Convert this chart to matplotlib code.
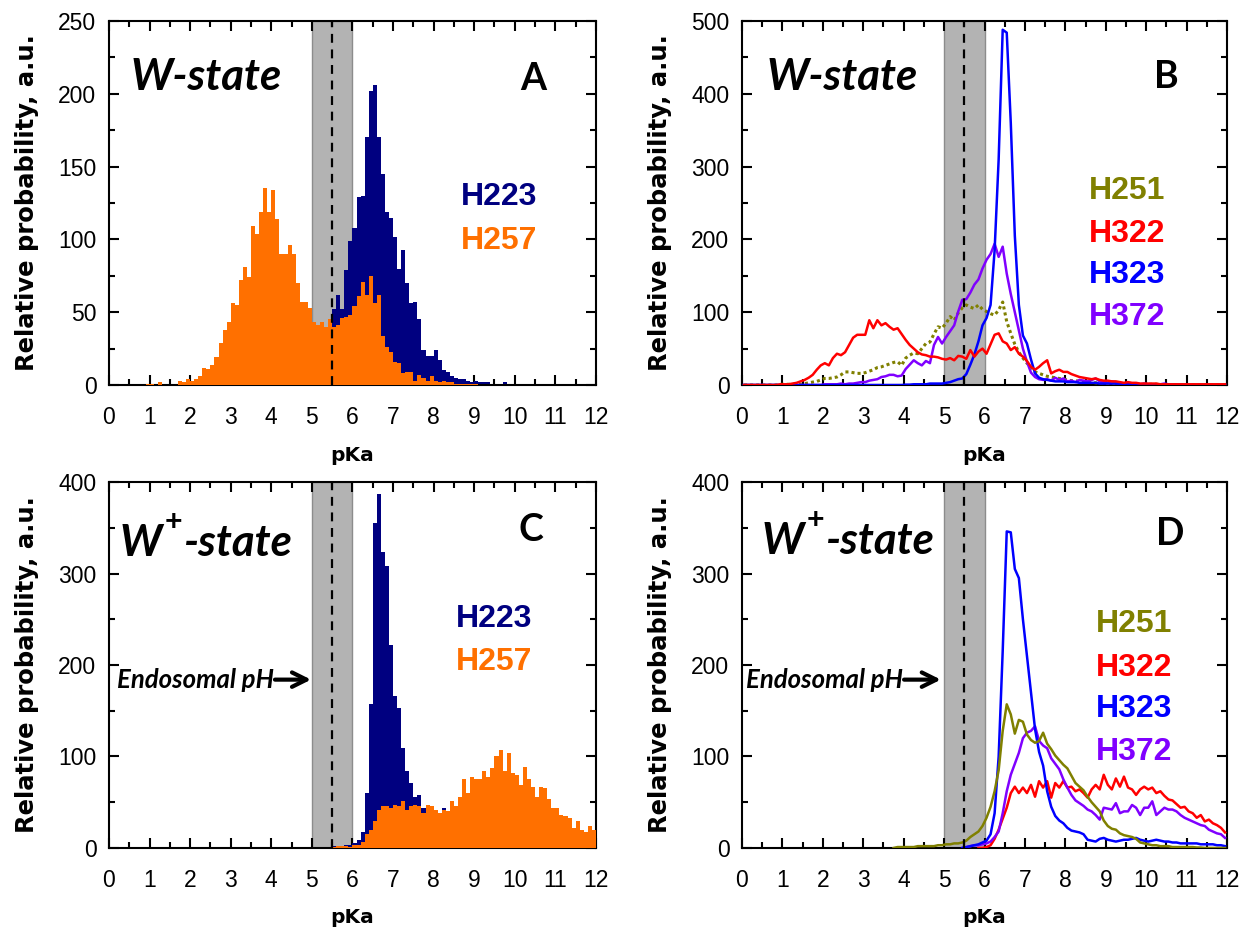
import numpy as np
import matplotlib.pyplot as plt
from matplotlib.ticker import MultipleLocator

# histogram bins of 0.1 pKa; line data are given at the bin centres
edges = np.round(np.arange(0, 12.001, 0.1), 2)
centers = edges[:-1] + 0.05
NA = float('nan')   # no sample there

# Panel A: W-state histograms
a_h223 = ([0] * 20 +
          [0, 0, 1, 1, 1, 2, 2, 3, 3, 4] +
          [5, 5, 6, 7, 8, 10, 11, 12, 14, 16] +
          [18, 20, 21, 23, 25, 28, 30, 32, 34, 36] +
          [36, 37, 38, 38, 42, 52, 62, 52, 79, 99] +
          [108, 129, 130, 170, 202, 206, 170, 145, 119, 115] +
          [102, 80, 93, 70, 56, 57, 45, 24, 20, 20] +
          [24, 17, 10, 9, 6, 5, 4, 4, 3, 2] +
          [3, 2, 2, 2, 1, 1, 0.5, 2, 0, 0] +
          [0] * 20)
a_h257 = ([0, 0, 0, 0, 0, 0, 0, 0, 0, 1] +
          [1, 0, 2, 0, 0, 0, 0, 3, 2, 4] +
          [3, 4, 6, 12, 11, 14, 19, 29, 38, 43] +
          [56, 55, 72, 81, 74, 109, 104, 119, 135, 119] +
          [134, 114, 90, 90, 96, 90, 70, 57, 57, 53] +
          [43, 41, 43, 40, 45, 40, 41, 46, 47, 48] +
          [54, 61, 71, 62, 75, 56, 62, 34, 26, 23] +
          [16, 15, 8, 9, 9, 3, 7, 5, 3, 6] +
          [3, 2, 3, 2, 2, 1, 1, 1, 1, 0.5] +
          [0.5, 0, 0, 0, 0, 0, 0, 0, 0, 0] +
          [0] * 20)

# Panel C: W+-state histograms
c_h223 = ([0] * 53 +
          [1, 1, 2, 2, 2, 3, 3] +
          [5, 9, 18, 60, 157, 355, 387, 324, 308, 222] +
          [166, 153, 109, 84, 71, 56, 58, 44, 40, 38] +
          [35, 33, 44, 30, 25, 20, 18, 15, 13, 11] +
          [9, 8, 7, 6, 5, 4, 3, 3, 2, 2] +
          [1, 1, 1, 1, 0.5, 0, 0, 0, 0, 0] +
          [0] * 10)
c_h257 = ([0] * 55 +
          [1, 2, 2, 2, 1] +
          [3, 3, 7, 15, 20, 29, 42, 46, 46, 44] +
          [47, 46, 51, 42, 46, 47, 46, 38, 47, 46] +
          [42, 38, 42, 40, 51, 46, 56, 75, 60, 78] +
          [75, 75, 84, 78, 87, 100, 107, 84, 104, 82] +
          [80, 69, 89, 75, 67, 56, 67, 66, 53, 44] +
          [44, 36, 35, 33, 22, 29, 20, 18, 24, 20])

# Panel B: W-state distributions
b_h251 = ([0, 0, 0, 0, 0, 0, 0, 0, 0, 1] +
          [1, 1, 1, 1, 1, 2, 3, 4, 5, 7] +
          [9, 9, 10, 11, 14, 18, 18, 17, 16, 16] +
          [17, 19, 21, 24, 25, 27, 29, 31, 32, 27] +
          [37, 41, 44, 43, 50, 57, 59, 70, 80, 78] +
          [85, 94, 89, 99, 106, 110, 107, 105, 110, 104] +
          [101, 98, 96, 103, 114, 87, 71, 56, 45, 37] +
          [30, 25, 18, 16, 14, 12, 11, 10, 9, 8] +
          [7, 6, 6, 5, 5, 4, 4, 3, 3, 3] +
          [2, 2, 2, 2, 1, 1, 1, 1, 1, 1] +
          [1, 1, 1, 0.5, 0.5, 0.5, 0.5, 0, 0, 0] +
          [0] * 10)
b_h322 = ([0, 0, 0, 0, 0, 0, 0, 0, 0, 1] +
          [1, 1, 2, 3, 5, 7, 10, 14, 21, 27] +
          [30, 27, 37, 43, 41, 45, 55, 65, 69, 69] +
          [69, 89, 78, 89, 82, 85, 80, 76, 78, 70] +
          [62, 55, 50, 45, 42, 41, 39, 39, 38, 36] +
          [35, 37, 34, 40, 39, 36, 48, 39, 46, 50] +
          [43, 56, 69, 71, 60, 57, 48, 52, 43, 39] +
          [33, 25, 21, 25, 30, 34, 16, 19, 21, 18] +
          [18, 15, 13, 11, 10, 9, 8, 9, 7, 6] +
          [6, 5, 5, 4, 3, 4, 3, 3, 2, 2] +
          [2, 2, 2, 1, 1, 1, 1, 1, 1, 1] +
          [1, 1, 1, 1, 1, 1, 1, 1, 1, 1])
b_h323 = ([0] * 40 +
          [0.5, 0.5, 1, 1, 1, 1, 2, 2, 2, 2] +
          [3, 4, 6, 8, 9, 15, 28, 42, 60, 82] +
          [92, 110, 185, 310, 488, 484, 360, 205, 110, 68] +
          [57, 35, 16, 10, 8, 7, 6, 5, 5, 5] +
          [4, 4, 4, 3, 3, 3, 3, 3, 2, 2] +
          [2, 2, 2, 1, 1, 1, 1, 1, 1, 1] +
          [1, 1, 1, 1, 1, 0.5, 0.5, 0.5, 0.5, 0.5] +
          [0] * 10)
b_h372 = ([0] * 20 +
          [1, 1, 1, 1, 2, 1, 2, 2, 3, 4] +
          [4, 6, 7, 8, 11, 12, 14, 14, 12, 13] +
          [22, 28, 34, 30, 27, 33, 30, 55, 66, 57] +
          [66, 74, 82, 101, 117, 118, 127, 138, 145, 160] +
          [172, 180, 194, 176, 190, 153, 125, 100, 75, 50] +
          [32, 17, 11, 8, 7, 8, 6, 10, 7, 9] +
          [5, 6, 4, 7, 6, 5, 7, 9, 5, 4] +
          [3, 5, 4, 2, 2, 3, 2, 2, 1, 2] +
          [1, 1, 1, 1, 2, 1, 0.5, 0.5, 0, 0] +
          [0] * 10)

# Panel D: W+-state distributions
d_h251 = ([NA] * 37 + [0] +
          [1, 1] +
          [1, 1, 1, 2, 2, 2, 2, 2, 3, 3] +
          [4, 4, 5, 5, 6, 8, 12, 15, 18, 24] +
          [33, 45, 62, 85, 128, 157, 146, 125, 140, 138] +
          [124, 118, 115, 117, 126, 114, 108, 101, 96, 91] +
          [87, 79, 71, 67, 63, 56, 50, 45, 40, 30] +
          [24, 21, 20, 16, 14, 13, 12, 10, 6, 5] +
          [4, 3, 3, 2, 2, 2, 1, 1, 1, 1] +
          [1, 1, 0.5, 0.5, 0, 0, 0, 0, 0, 0])
d_h322 = ([NA] * 58 + [0, 0] +
          [1, 3, 10, 20, 32, 44, 60, 67, 60, 66] +
          [60, 69, 56, 73, 66, 73, 55, 71, 66, 73] +
          [66, 67, 62, 64, 60, 55, 64, 69, 64, 80] +
          [69, 64, 76, 67, 78, 66, 64, 58, 64, 67] +
          [64, 66, 60, 62, 57, 53, 52, 48, 44, 45] +
          [40, 38, 33, 36, 29, 31, 27, 25, 22, 17])
d_h323 = ([NA] * 54 + [0] +
          [1, 2, 3, 4, 6] +
          [8, 15, 38, 100, 215, 346, 345, 305, 295, 250] +
          [210, 170, 130, 105, 90, 62, 45, 35, 30, 27] +
          [22, 19, 18, 17, 15, 9, 8, 7, 10, 11] +
          [9, 8, 7, 8, 9, 9, 10, 11, 9, 8] +
          [7, 8, 9, 8, 7, 7, 6, 6, 5, 5] +
          [5, 5, 5, 4, 4, 4, 4, 3, 3, 2])
d_h372 = ([NA] * 54 + [0] +
          [1, 2, 3, 3, 4] +
          [5, 7, 12, 18, 38, 62, 80, 92, 104, 120] +
          [126, 128, 133, 117, 112, 109, 98, 92, 86, 75] +
          [66, 58, 52, 49, 46, 42, 40, 36, 31, 44] +
          [43, 42, 49, 38, 40, 40, 47, 44, 36, 44] +
          [44, 51, 36, 40, 44, 42, 42, 40, 36, 33] +
          [31, 29, 27, 25, 24, 20, 18, 16, 15, 11])

NAVY = '#000080'
ORANGE = '#ff7000'
OLIVE = '#808000'
RED = '#ff0000'
BLUE = '#0000ff'
PURPLE = '#8000ff'

TICKFONT = 'Liberation Sans'
LABELFONT = 'DejaVu Sans'
TITLEFONT = ['Lato', 'DejaVu Sans']

fig = plt.figure(figsize=(12.47, 9.3), dpi=100)
axA = fig.add_axes([0.0874, 0.586, 0.3905, 0.3914])
axB = fig.add_axes([0.5950, 0.586, 0.3890, 0.3914])
axC = fig.add_axes([0.0874, 0.0882, 0.3905, 0.3935])
axD = fig.add_axes([0.5950, 0.0882, 0.3890, 0.3935])


def style_axes(ax, ymax, ymajor):
    ax.set_xlim(0, 12)
    ax.set_ylim(0, ymax)
    ax.xaxis.set_major_locator(MultipleLocator(1))
    ax.xaxis.set_minor_locator(MultipleLocator(0.5))
    ax.yaxis.set_major_locator(MultipleLocator(ymajor))
    ax.yaxis.set_minor_locator(MultipleLocator(ymajor / 2))
    ax.tick_params(which='both', direction='in', top=True, right=True,
                   width=1.5, labelsize=16.5)
    ax.tick_params(axis='x', pad=15)
    ax.tick_params(axis='y', pad=9)
    ax.tick_params(which='major', length=7)
    ax.tick_params(which='minor', length=4)
    for lab in ax.get_xticklabels() + ax.get_yticklabels():
        lab.set_fontfamily(TICKFONT)
    for sp in ax.spines.values():
        sp.set_linewidth(1.5)
    ax.set_xlabel('pKa', fontsize=14.5, fontweight='bold', family=LABELFONT, labelpad=12)
    ax.set_ylabel('Relative probability, a.u.', fontsize=17.5, fontweight='bold',
                  family=LABELFONT, labelpad=14)
    # endosomal pH band and its middle
    ax.axvspan(5.0, 6.0, facecolor='#b3b3b3', edgecolor='#8c8c8c', lw=1, zorder=0)
    ax.axvline(5.5, color='black', ls=(0, (4, 3)), lw=1.6, zorder=5)


def state_label(ax, x, y, plus):
    kw = dict(fontsize=31.5, fontweight='bold', style='italic', family=TITLEFONT)
    if not plus:
        ax.text(x, y, 'W-state', transform=ax.transAxes, va='baseline', **kw)
        return
    t1 = ax.text(x, y, 'W', transform=ax.transAxes, va='bottom', **kw)
    ax.annotate('+', xy=(1, 0), xycoords=t1, xytext=(2, 19), textcoords='offset points',
                va='bottom', fontsize=22, fontweight='bold', family=TITLEFONT)
    ax.annotate('-state', xy=(1, 0), xycoords=t1, xytext=(16, 0), textcoords='offset points',
                va='bottom', **kw)


def names(ax, x, ys, labels, colors):
    for y, lab, c in zip(ys, labels, colors):
        ax.text(x, y, lab, transform=ax.transAxes, color=c, fontsize=23,
                fontweight='bold', family=TICKFONT, va='baseline')


def letter(ax, x, y, s):
    ax.text(x, y, s, transform=ax.transAxes, ha='right', va='baseline',
            fontsize=27, fontweight='bold', family=TITLEFONT)


def endosomal(ax, xend, yarrow, xtext_end):
    ax.text(xtext_end, yarrow, 'Endosomal pH', ha='right', va='center',
            fontsize=18.5, fontweight='bold', style='italic', family=TITLEFONT)
    ax.annotate('', xy=(xend, yarrow), xytext=(xtext_end + 0.03, yarrow),
                arrowprops=dict(arrowstyle='->', lw=3, color='black',
                                mutation_scale=26, shrinkA=0, shrinkB=0))


# A
style_axes(axA, 250, 50)
axA.stairs(a_h223, edges, fill=True, color=NAVY, zorder=2)
axA.stairs(a_h257, edges, fill=True, color=ORANGE, zorder=3)
state_label(axA, 0.045, 0.81, False)
letter(axA, 0.897, 0.811, 'A')
names(axA, 0.722, [0.494, 0.375], ['H223', 'H257'], [NAVY, ORANGE])

# B
style_axes(axB, 500, 100)
axB.plot(centers, b_h251, color=OLIVE, lw=2.2, ls=(0, (1, 1)), zorder=3)
axB.plot(centers, b_h372, color=PURPLE, lw=1.8, zorder=3)
axB.plot(centers, b_h323, color=BLUE, lw=1.8, zorder=3)
axB.plot(centers, b_h322, color=RED, lw=1.8, zorder=4)
state_label(axB, 0.05, 0.81, False)
letter(axB, 0.90, 0.817, 'B')
names(axB, 0.716, [0.512, 0.394, 0.279, 0.165], ['H251', 'H322', 'H323', 'H372'],
      [OLIVE, RED, BLUE, PURPLE])

# C
style_axes(axC, 400, 100)
axC.stairs(c_h223, edges, fill=True, color=NAVY, zorder=2)
axC.stairs(c_h257, edges, fill=True, color=ORANGE, zorder=3)
state_label(axC, 0.022, 0.78, True)
letter(axC, 0.892, 0.838, 'C')
names(axC, 0.712, [0.605, 0.486], ['H223', 'H257'], [NAVY, ORANGE])
endosomal(axC, 4.98, 184, 4.06)

# D
style_axes(axD, 400, 100)
axD.plot(centers, d_h322, color=RED, lw=1.8, zorder=3)
axD.plot(centers, d_h372, color=PURPLE, lw=1.8, zorder=3)
axD.plot(centers, d_h323, color=BLUE, lw=1.8, zorder=3)
axD.plot(centers, d_h251, color=OLIVE, lw=1.8, zorder=4)
state_label(axD, 0.04, 0.785, True)
letter(axD, 0.913, 0.828, 'D')
names(axD, 0.73, [0.59, 0.47, 0.359, 0.24], ['H251', 'H322', 'H323', 'H372'],
      [OLIVE, RED, BLUE, PURPLE])
endosomal(axD, 4.92, 184, 3.98)

fig.savefig('out.png', dpi=100)
